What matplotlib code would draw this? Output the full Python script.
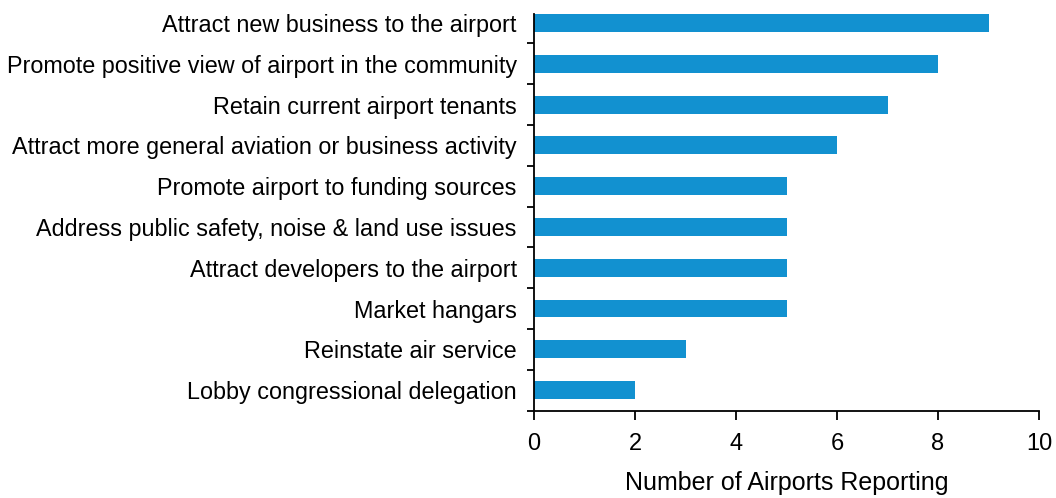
import numpy as np
import matplotlib
matplotlib.use('Agg')
from matplotlib import pyplot as plt
from matplotlib.ticker import FixedLocator

categories = [
    'Attract new business to the airport',
    'Promote positive view of airport in the community',
    'Retain current airport tenants',
    'Attract more general aviation or business activity',
    'Promote airport to funding sources',
    'Address public safety, noise & land use issues',
    'Attract developers to the airport',
    'Market hangars',
    'Reinstate air service',
    'Lobby congressional delegation',
]
values = [9, 8, 7, 6, 5, 5, 5, 5, 3, 2]
xticks = [0, 2, 4, 6, 8, 10]

plt.rcParams['font.family'] = ['Liberation Sans', 'DejaVu Sans']

fig = plt.figure(figsize=(10.56, 4.98), dpi=100)
ax = fig.add_axes([534 / 1056, 1 - 410.5 / 498, 505 / 1056, 396.5 / 498])

n = len(categories)
ypos = np.arange(n)[::-1]
ax.barh(ypos, values, height=0.44, color='#1291d0')

ax.set_xlim(0, 10)
ax.set_ylim(-0.5, n - 1 + 0.22)
ax.spines['top'].set_visible(False)
ax.spines['right'].set_visible(False)
ax.spines['left'].set_linewidth(1.3)
ax.spines['bottom'].set_linewidth(1.3)

ax.set_xticks(xticks)
ax.set_xticklabels([str(t) for t in xticks], fontsize=17)
ax.tick_params(axis='x', direction='out', length=6.5, width=1.3, pad=10)

# category labels without ticks, separator ticks between categories
ax.yaxis.set_major_locator(FixedLocator(ypos))
ax.set_yticklabels(categories, fontsize=16.8)
ax.tick_params(axis='y', which='major', length=0, pad=12.5)
ax.yaxis.set_minor_locator(FixedLocator(np.arange(n) - 0.5))
ax.tick_params(axis='y', which='minor', length=5, width=1.3, direction='out')

ax.set_xlabel('Number of Airports Reporting', fontsize=18, labelpad=11)

fig.savefig('out.png', dpi=100)
